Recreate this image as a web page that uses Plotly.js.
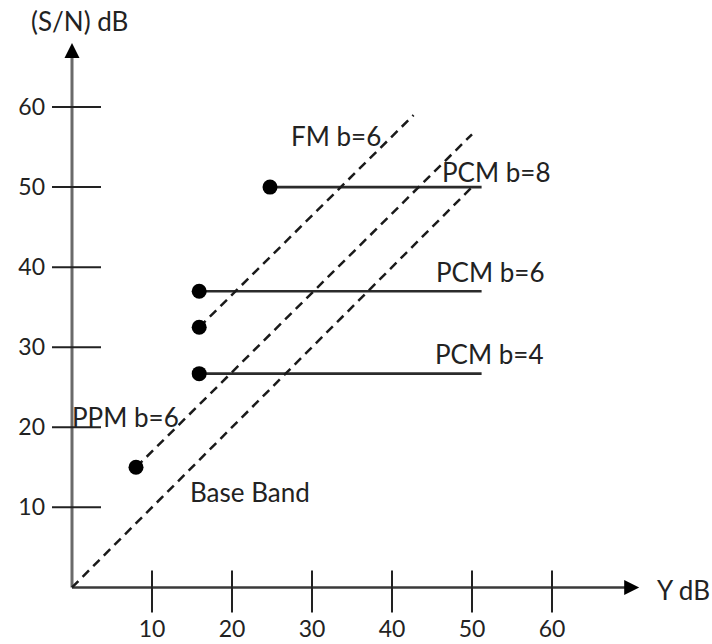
<!DOCTYPE html>
<html>
<head>
<meta charset="utf-8">
<script src="https://cdn.plot.ly/plotly-3.0.1.min.js"></script>
<style>html,body{margin:0;padding:0;background:#fff;}#chart{width:712px;height:644px;}</style>
</head>
<body>
<div id="chart"></div>
<script>
// ---- data (gamma in dB on x, S/N in dB on y) ----
const xTickVals = [10, 20, 30, 40, 50, 60];
const yTickVals = [10, 20, 30, 40, 50, 60];

const pcmLabels = ['PCM b=8', 'PCM b=6', 'PCM b=4'];
const pcmStartGamma = [24.75, 15.9, 15.9];
const pcmEndGamma = [51.2, 51.2, 51.2];
const pcmSN = [50, 37, 26.7];

const fmLabel = 'FM b=6';
const fmGamma = [15.9, 42.7];
const fmSN = [32.5, 59];

const ppmLabel = 'PPM b=6';
const ppmGamma = [8, 50];
const ppmSN = [15, 56.6];

const baseLabel = 'Base Band';
const baseGamma = [0, 50];
const baseSN = [0, 50];

const xAxisLabel = 'Y dB';
const yAxisLabel = '(S/N) dB';

// ---- styles ----
const FONT = 'Lato, "Open Sans", sans-serif';
const TXT = '#222';
const FS = 26;
const TFS = 23;

const traces = [];
for (let i = 0; i < pcmLabels.length; i++) {
  traces.push({
    x: [pcmStartGamma[i], pcmEndGamma[i]], y: [pcmSN[i], pcmSN[i]],
    mode: 'lines', line: {color: '#2b2b2b', width: 2.6}, cliponaxis: false,
    hoverinfo: 'skip', showlegend: false
  });
}
[[fmGamma, fmSN], [ppmGamma, ppmSN], [baseGamma, baseSN]].forEach(([gx, gy]) => {
  traces.push({
    x: gx, y: gy, mode: 'lines',
    line: {color: '#1a1a1a', width: 2.5, dash: '9px,6px'}, cliponaxis: false,
    hoverinfo: 'skip', showlegend: false
  });
});
traces.push({
  x: pcmStartGamma.concat([fmGamma[0], ppmGamma[0]]),
  y: pcmSN.concat([fmSN[0], ppmSN[0]]),
  mode: 'markers', marker: {color: '#000', size: 15}, cliponaxis: false,
  hoverinfo: 'skip', showlegend: false
});
// axis arrowheads
traces.push({
  x: [0], y: [68], mode: 'markers',
  marker: {symbol: 'arrow-up', size: 15, color: '#000'}, cliponaxis: false,
  hoverinfo: 'skip', showlegend: false
});
traces.push({
  x: [70.9], y: [0], mode: 'markers',
  marker: {symbol: 'arrow-right', size: 15, color: '#000'}, cliponaxis: false,
  hoverinfo: 'skip', showlegend: false
});

const shapes = [];
shapes.push({type: 'line', xref: 'x', yref: 'y', x0: 0, y0: 0, x1: 70, y1: 0,
  line: {color: '#3a3a3a', width: 2.5}, layer: 'below'});
shapes.push({type: 'line', xref: 'x', yref: 'y', x0: 0, y0: 0, x1: 0, y1: 67,
  line: {color: '#6a6a6a', width: 3}, layer: 'below'});
xTickVals.forEach(v => shapes.push({
  type: 'line', xref: 'x', yref: 'y', ysizemode: 'pixel', yanchor: 0,
  x0: v, x1: v, y0: -25, y1: 17, line: {color: '#222', width: 2}
}));
yTickVals.forEach(v => shapes.push({
  type: 'line', xref: 'x', yref: 'y', xsizemode: 'pixel', xanchor: 0,
  y0: v, y1: v, x0: -20, x1: 29, line: {color: '#222', width: 2}
}));

function ann(text, x, y, ref) {
  return {text: text, x: x, y: y, xref: ref || 'x', yref: ref ? 'paper' : 'y',
    showarrow: false, xanchor: 'left', yanchor: 'middle',
    font: {family: FONT, size: FS, color: TXT}};
}
const annotations = [
  ann(fmLabel, 27.1, 56.4),
  ann(pcmLabels[0], 46.0, 51.9),
  ann(pcmLabels[1], 45.3, 39.4),
  ann(pcmLabels[2], 45.1, 29.1),
  ann(ppmLabel, -0.2, 21.25),
  ann(baseLabel, 14.45, 11.9),
  ann(yAxisLabel, -0.032, 1.031, 'paper'),
  ann(xAxisLabel, 1.025, 0.040, 'paper')
];

const layout = {
  width: 712, height: 644,
  margin: {l: 48, r: 72, t: 39, b: 31.4},
  paper_bgcolor: '#fff', plot_bgcolor: '#fff',
  showlegend: false,
  xaxis: {range: [-3, 71], showgrid: false, zeroline: false, showline: false,
    tickvals: xTickVals, ticks: '', ticklabelstandoff: 0,
    tickfont: {family: FONT, size: TFS, color: TXT}},
  yaxis: {range: [-3.2, 68.5], showgrid: false, zeroline: false, showline: false,
    tickvals: yTickVals, ticks: '', ticklabelstandoff: 2,
    tickfont: {family: FONT, size: TFS, color: TXT}},
  shapes: shapes,
  annotations: annotations
};

Plotly.newPlot('chart', traces, layout, {displayModeBar: false, staticPlot: true});
</script>
</body>
</html>
